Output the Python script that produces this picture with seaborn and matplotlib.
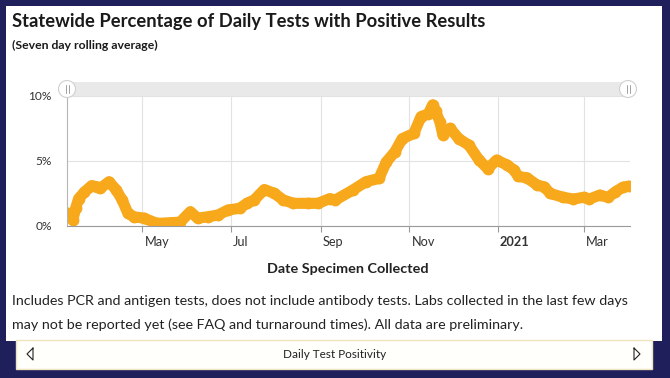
import pandas as pd
import numpy as np
import matplotlib.pyplot as plt
import matplotlib.transforms as mtransforms
from matplotlib.patches import Rectangle, Circle
import seaborn as sns

# --- data (7-day rolling average, % positive) ---
dates = ['2020-03-11', '2020-03-14', '2020-03-16', '2020-03-18', '2020-03-22',
         '2020-03-27', '2020-03-31', '2020-04-02', '2020-04-08', '2020-04-13',
         '2020-04-17', '2020-04-21', '2020-04-25', '2020-05-02', '2020-05-11',
         '2020-05-20', '2020-05-27', '2020-06-03', '2020-06-08', '2020-06-15',
         '2020-06-22', '2020-06-29', '2020-07-07', '2020-07-12', '2020-07-17',
         '2020-07-24', '2020-07-31', '2020-08-06', '2020-08-13', '2020-08-23',
         '2020-08-30', '2020-09-07', '2020-09-11', '2020-09-23', '2020-10-02',
         '2020-10-11', '2020-10-16', '2020-10-22', '2020-10-27', '2020-11-04',
         '2020-11-09', '2020-11-14', '2020-11-17', '2020-11-19', '2020-11-22',
         '2020-11-24', '2020-11-29', '2020-12-05', '2020-12-12', '2020-12-19',
         '2020-12-25', '2020-12-31', '2021-01-07', '2021-01-12', '2021-01-15',
         '2021-01-21', '2021-01-28', '2021-02-02', '2021-02-06', '2021-02-15',
         '2021-02-22', '2021-03-01', '2021-03-05', '2021-03-12', '2021-03-18',
         '2021-03-23', '2021-03-28', '2021-04-01']
positivity = [0.97, 0.46, 1.38, 2.1, 2.6,
              3.1, 3.0, 2.9, 3.4, 2.76,
              2.0, 0.97, 0.71, 0.6, 0.2,
              0.25, 0.3, 1.1, 0.6, 0.71,
              0.84, 1.23, 1.36, 1.74, 2.0,
              2.8, 2.5, 2.0, 1.74, 1.74,
              1.74, 2.1, 2.0, 2.76, 3.4,
              3.65, 4.9, 5.7, 6.7, 7.1,
              8.4, 8.6, 9.3, 8.8, 8.0,
              7.0, 7.5, 6.7, 6.2, 5.06,
              4.4, 5.06, 4.7, 4.3, 3.8,
              3.7, 3.14, 3.0, 2.5, 2.2,
              2.07, 2.2, 2.07, 2.37, 2.2,
              2.63, 2.97, 3.06]
tick_dates = ['2020-05-01', '2020-07-01', '2020-09-01', '2020-11-01', '2021-01-01', '2021-03-01']
tick_labels = ['May', 'Jul', 'Sep', 'Nov', '2021', 'Mar']
y_ticks = [0, 5, 10]
y_labels = ['0%', '5%', '10%']

df = pd.DataFrame({'date': pd.to_datetime(dates), 'pct': positivity})

sns.set_style("whitegrid")
plt.rcParams['font.family'] = ['Lato', 'DejaVu Sans']

NAVY = '#1f1f5c'
ORANGE = '#f7a81b'
W, H = 670, 378

fig = plt.figure(figsize=(6.7, 3.78), dpi=100)
fig.patch.set_facecolor(NAVY)

# background panels (pixel coords)
bg = fig.add_axes([0, 0, 1, 1], zorder=0)
bg.set_xlim(0, W)
bg.set_ylim(H, 0)
bg.axis('off')
bg.add_patch(Rectangle((6, 6), 656, 335, facecolor='white', edgecolor='none'))
bg.add_patch(Rectangle((16, 340), 636, 29, facecolor='#fffffc', edgecolor='#efe5bd', linewidth=1))

# --- main chart ---
ax = fig.add_axes([67 / W, 1 - 226 / H, (630 - 67) / W, (226 - 95.7) / H], zorder=2)
ax.set_facecolor('none')
sns.lineplot(data=df, x='date', y='pct', ax=ax, color=ORANGE, linewidth=8,
             marker='o', markersize=8.5, markeredgewidth=0,
             solid_capstyle='round', solid_joinstyle='round')
ax.set_xlim(pd.Timestamp('2020-03-10'), pd.Timestamp('2021-04-02'))
ax.set_ylim(0, 10)
ax.set_xticks(pd.to_datetime(tick_dates))
ax.set_xticklabels(tick_labels)
ax.set_yticks(y_ticks)
ax.set_yticklabels(y_labels)
ax.grid(True, color='#e2e2e2', linewidth=0.8)
for side in ['top', 'right']:
    ax.spines[side].set_visible(False)
ax.spines['left'].set_color('#b5b5b5')
ax.spines['bottom'].set_color('#9a9a9a')
ax.spines['left'].set_linewidth(0.8)
ax.spines['bottom'].set_linewidth(0.8)
ax.tick_params(axis='x', length=4, color='#9a9a9a', labelsize=9.2, labelcolor='#333333', pad=3)
ax.tick_params(axis='y', length=0, labelsize=8.6, labelcolor='#333333', pad=11)
ax.xaxis.set_tick_params(which='both', bottom=True)
shift = mtransforms.ScaledTranslation(2 / 100, 0, fig.dpi_scale_trans)
for lbl in ax.get_xticklabels():
    lbl.set_ha('left')
    lbl.set_transform(lbl.get_transform() + shift)
    if lbl.get_text() == '2021':
        lbl.set_fontweight('bold')
ax.set_xlabel('')
ax.set_ylabel('')

# --- scrollbar overlay ---
ov = fig.add_axes([0, 0, 1, 1], zorder=3)
ov.set_xlim(0, W)
ov.set_ylim(H, 0)
ov.axis('off')
ov.add_patch(Rectangle((67, 82), 562, 14, facecolor='#e9e9e9', edgecolor='none'))
for cx in [67, 628]:
    ov.add_patch(Circle((cx, 89), 8.5, facecolor='white', edgecolor='#d0d0d0', linewidth=0.8))
    ov.plot([cx - 1.5, cx - 1.5], [85, 93], color='#a0a0a0', linewidth=0.7)
    ov.plot([cx + 1.5, cx + 1.5], [85, 93], color='#a0a0a0', linewidth=0.7)

# nav arrows
ov.plot([33, 27, 33, 33], [348, 354, 360, 348], color='#222222', linewidth=0.8)
ov.plot([634, 640, 634, 634], [348, 354, 360, 348], color='#222222', linewidth=0.8)

# --- texts ---
fig.text(12 / W, 1 - 22 / H, 'Statewide Percentage of Daily Tests with Positive Results',
         fontsize=13.2, fontweight='bold', color='#1a1a1a', va='center', ha='left')
fig.text(12 / W, 1 - 45 / H, '(Seven day rolling average)',
         fontsize=8.8, fontweight='bold', color='#1a1a1a', va='center', ha='left')
fig.text(348 / W, 1 - 269 / H, 'Date Specimen Collected',
         fontsize=10.4, fontweight='bold', color='#222222', va='center', ha='center')
fig.text(12 / W, 1 - 301 / H,
         'Includes PCR and antigen tests, does not include antibody tests. Labs collected in the last few days',
         fontsize=10.3, color='#222222', va='center', ha='left')
fig.text(12 / W, 1 - 325 / H,
         'may not be reported yet (see FAQ and turnaround times). All data are preliminary.',
         fontsize=10.3, color='#222222', va='center', ha='left')
fig.text(335 / W, 1 - 354 / H, 'Daily Test Positivity', fontsize=8.5, color='#222222',
         va='center', ha='center')

plt.savefig('out.png', dpi=100, facecolor=fig.get_facecolor())
plt.close()
